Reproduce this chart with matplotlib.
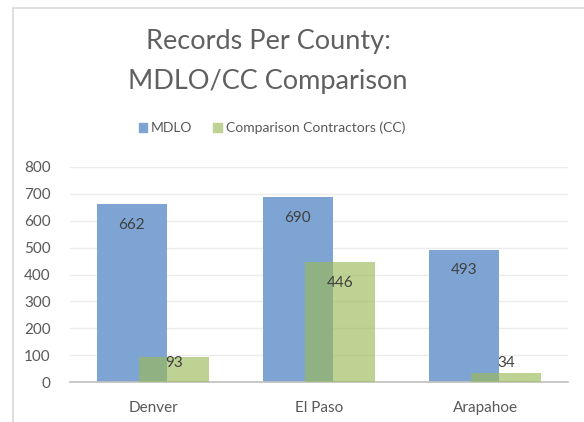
import matplotlib.pyplot as plt
import numpy as np
from matplotlib.patches import Rectangle, Patch

counties = ["Denver", "El Paso", "Arapahoe"]
mdlo = [662, 690, 493]
cc = [93, 446, 34]

plt.rcParams["font.family"] = ["Lato", "DejaVu Sans"]

fig = plt.figure(figsize=(5.84, 4.22), dpi=100)
ax = fig.add_axes([70 / 584, 1 - 382 / 422, 498 / 584, 215 / 422])

# chart area border (cropped at right and bottom)
fig.patches.append(Rectangle((13 / 584, -0.1), 1.2, 1 - 8 / 422 + 0.1,
                             transform=fig.transFigure, fill=False,
                             edgecolor="#d9d9d9", linewidth=1.2))

x = np.arange(len(counties))
width = 0.42
off = 0.127
b1 = ax.bar(x - off, mdlo, width, color="#7da4d2", zorder=2)
b2 = ax.bar(x + off, cc, width, color="#9bbb59", alpha=0.65, zorder=3)

for bars, vals in ((b1, mdlo), (b2, cc)):
    for b, v in zip(bars, vals):
        ax.text(b.get_x() + b.get_width() / 2, max(v - 78, 71), str(v),
                ha="center", va="center", fontsize=11, color="#404040", zorder=4)

ax.set_xlim(-0.5, 2.5)
ax.set_ylim(0, 800)
ax.set_yticks(range(0, 801, 100))
ax.set_xticks(x)
ax.set_xticklabels(counties)
ax.tick_params(axis="both", length=0, labelsize=11, colors="#595959")
ax.tick_params(axis="x", pad=14)
ax.tick_params(axis="y", pad=14)
ax.grid(axis="y", color="#ececec", linewidth=1, zorder=0)
for s in ["top", "right", "left"]:
    ax.spines[s].set_visible(False)
ax.spines["bottom"].set_color("#bfbfbf")
ax.spines["bottom"].set_linewidth(1.2)

fig.text(268 / 584, 1 - 61 / 422, "Records Per County:\nMDLO/CC Comparison",
         ha="center", va="center", fontsize=19.5, fontweight="normal",
         color="#606060", linespacing=1.75)

handles = [Patch(color="#7da4d2", label="MDLO"),
           Patch(color="#bed393", label="Comparison Contractors (CC)")]
fig.legend(handles=handles, loc="center", bbox_to_anchor=(272 / 584, 1 - 128 / 422),
           ncol=2, frameon=False, fontsize=10, labelcolor="#595959",
           handlelength=0.6, handleheight=0.6, handletextpad=0.3, columnspacing=1.5)

fig.savefig("out.png", dpi=100)
